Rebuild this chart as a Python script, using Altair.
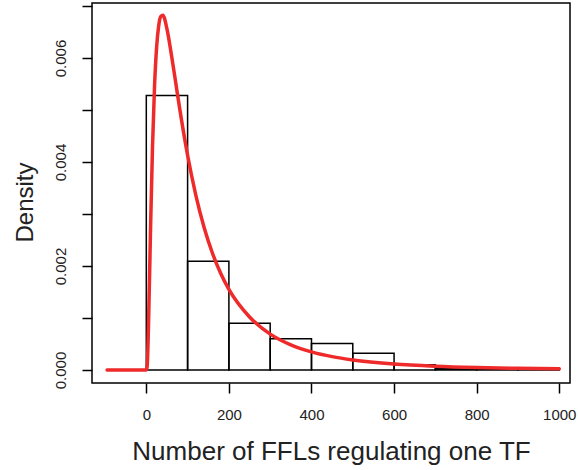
import altair as alt
import pandas as pd

# Histogram bins (Density)
bin_start = [0, 100, 200, 300, 400, 500, 600, 700, 800, 900]
bin_end = [100, 200, 300, 400, 500, 600, 700, 800, 900, 1000]
bin_density = [0.00528, 0.00209, 0.00090, 0.00060, 0.00051, 0.00032,
               0.00010, 0.00003, 0.00003, 0.00003]

# Fitted density curve
curve_x = [-95, 0, 2, 5, 10, 15, 20, 25, 30, 35, 40, 50, 60, 70, 80, 100,
           120, 140, 160, 180, 200, 250, 300, 350, 400, 450, 500, 600, 700,
           800, 900, 1000]
curve_y = [0.0, 0.0, 0.000065, 0.00075, 0.00262, 0.00429, 0.00547, 0.00621,
           0.00662, 0.00680, 0.00682, 0.00656, 0.00610, 0.00559, 0.00507,
           0.00413, 0.00336, 0.00274, 0.00225, 0.00186, 0.00155, 0.00102,
           0.00069, 0.000484, 0.000349, 0.000257, 0.000193, 0.000114,
           0.0000716, 0.0000467, 0.0000315, 0.0000219]

x_ticks = [0, 200, 400, 600, 800, 1000]
y_ticks = [0.000, 0.001, 0.002, 0.003, 0.004, 0.005, 0.006, 0.007]

bars = pd.DataFrame({"start": bin_start, "end": bin_end, "density": bin_density})
curve = pd.DataFrame({"x": curve_x, "y": curve_y})

FONT = "Liberation Sans"

xscale = alt.Scale(domain=[-131.5, 1026], nice=False, zero=False)
yscale = alt.Scale(domain=[-0.00025, 0.0070577], nice=False, zero=False)

xaxis = alt.Axis(
    values=x_ticks, format="d", title="Number of FFLs regulating one TF", grid=False,
    domain=False, tickColor="black", tickWidth=1.5, tickSize=10,
    labelFont=FONT, labelFontSize=15, labelColor="#222", labelPadding=14,
    labelOverlap=False, titleFont=FONT, titleFontSize=26, titleFontWeight="normal",
    titleColor="#222", titlePadding=16,
)
yaxis = alt.Axis(
    values=y_ticks, title="Density", grid=False, domain=False,
    tickColor="black", tickWidth=1.5, tickSize=10,
    labelExpr="round(datum.value*1000) % 2 == 0 ? format(datum.value, '.3f') : ''",
    labelAngle=270, labelAlign="center", labelBaseline="bottom",
    labelFont=FONT, labelFontSize=15, labelColor="#222", labelPadding=14,
    labelOverlap=False, titleFont=FONT, titleFontSize=24, titleFontWeight="normal",
    titleColor="#222", titlePadding=16, titleY=199,
)

hist = alt.Chart(bars).mark_rect(
    fill="white", fillOpacity=0, stroke="black", strokeWidth=1.5, clip=True
).encode(
    x=alt.X("start:Q", scale=xscale, axis=xaxis),
    x2="end:Q",
    y=alt.Y("density:Q", scale=yscale, axis=yaxis),
    y2=alt.datum(0),
)

line = alt.Chart(curve).mark_line(
    color="#EE2A2A", strokeWidth=3.5, interpolate="monotone", clip=True,
    strokeCap="round", strokeJoin="round"
).encode(
    x=alt.X("x:Q", scale=xscale),
    y=alt.Y("y:Q", scale=yscale),
)

chart = alt.layer(hist, line).properties(
    width=478, height=380,
    padding={"left": 92, "top": 3, "right": 8, "bottom": 87},
    autosize=alt.AutoSizeParams(type="none"),
    background="white",
).configure_view(stroke="black", strokeWidth=1.5)

chart.save("out.html", embed_options={"renderer": "svg", "actions": False})
